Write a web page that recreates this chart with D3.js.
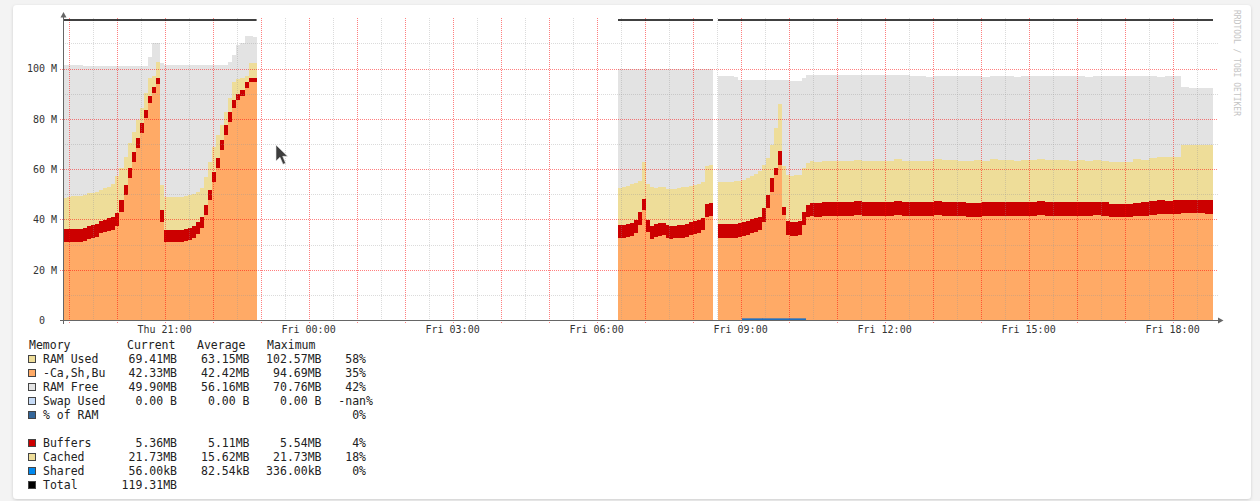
<!DOCTYPE html>
<html>
<head>
<meta charset="utf-8">
<script src="https://cdn.jsdelivr.net/npm/d3@7"></script>
<style>
html,body{margin:0;padding:0;background:#f3f3f3;overflow:hidden;}
svg{display:block;font-family:"DejaVu Sans Mono",monospace;}
</style>
</head>
<body>
<svg id="chart" width="1260" height="501"></svg>
<script>
// ---------------- DATA (MB) ----------------
// segment 1: Thu 18:53 - 22:55
const seg1Apps = [31.0,31.0,31.0,31.0,31.0,31.4,32.2,32.6,33.0,34.6,35.0,35.4,35.8,37.4,43.0,49.7,56.5,62.9,68.4,74.4,80.4,86.3,90.3,93.9,39.0,31.0,31.0,31.0,31.0,31.0,31.4,31.8,32.6,34.2,36.6,41.8,47.7,54.9,60.5,67.6,73.6,78.8,84.3,87.5,89.1,92.3,94.7,94.7];
const seg1Buffers = [5.2,5.2,5.2,5.2,5.2,5.2,5.2,5.2,5.2,4.8,4.8,5.2,5.2,5.2,4.8,4.0,4.0,4.0,4.0,4.0,3.2,2.8,2.4,2.4,4.8,4.8,4.8,4.8,4.8,4.8,4.8,4.8,4.8,4.8,4.4,4.0,4.0,4.0,4.0,4.0,4.0,4.0,3.2,2.4,2.4,2.4,1.6,1.6];
const seg1Cached = [12.3,12.7,13.1,13.1,13.1,13.1,13.1,12.7,12.7,12.3,12.7,12.3,13.1,14.7,12.7,11.1,9.9,8.0,7.2,6.0,6.8,7.2,4.4,6.4,9.9,13.1,13.1,13.1,13.1,13.1,13.1,13.1,12.7,11.9,11.5,11.1,11.1,9.9,9.1,6.0,5.2,5.6,7.2,6.0,4.8,2.4,6.0,6.0];
const seg1Free = [52.9,52.5,52.1,52.1,52.1,51.3,50.5,50.5,50.1,49.3,48.5,48.1,46.9,43.8,40.6,36.2,30.6,26.3,21.5,16.7,10.7,8.4,13.1,7.6,48.5,52.5,52.5,52.5,52.5,52.5,52.1,51.7,51.3,50.5,48.9,44.6,38.6,32.6,27.8,23.9,18.7,14.3,10.7,13.5,13.9,15.9,10.7,10.3];

// segment 2: Fri 06:27 - 08:25
const seg2Apps = [32.6,32.6,33.0,33.4,34.6,37.8,43.8,35.0,32.2,33.0,33.4,33.8,32.6,32.2,32.6,32.6,32.6,33.0,33.8,34.2,34.6,35.8,41.0,41.4];
const seg2Buffers = [5.2,5.2,5.2,5.2,5.2,5.2,4.4,4.8,5.2,5.2,5.2,4.8,5.2,5.2,4.8,5.2,5.2,5.2,5.2,5.2,5.2,4.8,5.2,5.2];
const seg2Cached = [14.7,15.1,15.1,15.5,14.7,12.3,14.7,14.3,15.5,14.3,14.3,14.3,14.3,14.7,14.7,14.7,15.1,14.7,14.3,14.3,14.3,14.3,15.1,15.1];
const seg2Free = [47.3,46.9,46.5,45.7,45.3,44.6,37.0,45.7,46.9,47.3,46.9,46.9,47.7,47.7,47.7,47.3,46.9,46.9,46.5,46.1,45.7,44.9,38.6,38.2];

// segment 3a: Fri 08:32 - 10:32 (5 min)
const seg3aApps = [32.6,32.6,32.6,32.6,32.6,33.0,33.4,33.8,34.6,35.0,35.8,39.0,44.6,50.9,57.7,61.7,41.8,33.8,33.4,33.4,33.8,37.8,41.0,41.4];
const seg3aBuffers = [5.5,5.5,5.5,5.5,5.5,5.5,5.5,5.5,5.5,5.5,5.2,5.5,5.2,5.5,2.8,5.5,3.2,5.5,5.5,5.5,5.5,5.2,4.8,5.2];
const seg3aCached = [16.7,16.7,16.7,16.7,17.1,16.7,16.7,17.1,17.1,17.5,18.3,17.1,14.7,13.1,15.9,18.7,16.3,18.3,18.5,18.7,18.3,17.5,16.7,16.7];
const seg3aFree = [42.2,42.2,42.2,42.2,41.4,40.2,39.8,39.0,38.2,37.4,36.2,33.8,31.0,25.9,19.1,9.5,34.2,37.8,37.8,37.4,37.4,35.8,35.0,34.2];
const seg3aShared = [0.05,0.05,0.05,0.05,0.05,0.05,0.33,0.33,0.33,0.33,0.33,0.33,0.33,0.33,0.33,0.33,0.33,0.33,0.33,0.33,0.33,0.33,0.05,0.05];

// segment 3b: Fri 10:32 - 18:50 (10 min)
const seg3bApps = [41.0,41.4,41.4,41.4,41.4,41.8,41.4,41.4,41.4,41.4,41.8,41.4,41.4,41.4,41.4,41.8,41.4,41.4,41.4,41.0,41.0,41.4,41.4,41.4,41.4,41.4,41.4,41.4,41.8,41.4,41.4,41.4,41.4,41.4,41.4,41.8,41.4,41.0,41.0,41.0,41.4,41.4,41.8,42.2,42.2,42.2,42.6,42.6,42.6,42.33];
const seg3bBuffers = [5.5,5.5,5.5,5.5,5.5,5.5,5.5,5.5,5.5,5.5,5.5,5.5,5.5,5.5,5.5,5.5,5.5,5.5,5.5,5.5,5.5,5.5,5.5,5.5,5.5,5.5,5.5,5.5,5.5,5.5,5.5,5.5,5.5,5.5,5.5,5.2,5.5,5.2,5.2,5.2,5.2,5.5,5.5,5.5,5.2,5.5,5.2,5.2,5.2,5.36];
const seg3bCached = [16.3,16.3,16.3,16.3,16.3,16.3,16.3,16.3,16.3,16.3,16.7,16.3,16.3,16.3,16.3,16.7,16.7,16.7,16.3,16.7,17.1,16.5,17.1,16.7,16.7,16.5,16.7,16.7,16.7,16.7,16.7,16.7,16.3,16.7,16.5,16.7,16.3,16.7,16.7,16.7,17.5,16.7,17.1,17.1,17.5,17.1,21.9,21.9,21.9,21.73];
const seg3bFree = [34.6,34.2,34.2,34.2,34.2,33.8,34.2,34.2,34.2,34.2,33.4,34.2,33.8,33.8,33.4,33.0,33.4,33.4,33.8,33.8,33.4,33.4,33.0,33.4,33.4,33.4,33.4,33.4,33.0,33.4,33.4,33.4,33.8,33.4,33.4,33.4,33.8,34.2,34.2,34.2,33.0,33.4,32.6,31.8,32.2,32.2,23.1,22.7,22.7,22.9];

const segStart = ["2024-01-04 18:53:00","2024-01-05 06:26:45","2024-01-05 08:31:45","2024-01-05 10:31:45"];
const segEnd   = ["2024-01-04 22:55:00","2024-01-05 08:25:30","2024-01-05 10:31:45","2024-01-05 18:50:30"];
const runGroups = [[0],[1],[2,3]];
const totalRam = 119.31;

const xTickTimes  = ["2024-01-04 21:00:00","2024-01-05 00:00:00","2024-01-05 03:00:00","2024-01-05 06:00:00","2024-01-05 09:00:00","2024-01-05 12:00:00","2024-01-05 15:00:00","2024-01-05 18:00:00"];
const xTickLabels = ["Thu 21:00","Fri 00:00","Fri 03:00","Fri 06:00","Fri 09:00","Fri 12:00","Fri 15:00","Fri 18:00"];
const yTickValues = [0,20,40,60,80,100];
const yTickLabels = ["0","20 M","40 M","60 M","80 M","100 M"];

const legendLabels  = ["RAM Used","-Ca,Sh,Bu","RAM Free","Swap Used","% of RAM",null,"Buffers","Cached","Shared","Total"];
const legendColors  = ["#EEDD99","#FFAA66","#E3E3E3","#C6DBF7","#336699",null,"#CC0000","#EEDD99","#0088EE","#000000"];
const legendCurrent = ["69.41MB","42.33MB","49.90MB","0.00 B","",null,"5.36MB","21.73MB","56.00kB","119.31MB"];
const legendAverage = ["63.15MB","42.42MB","56.16MB","0.00 B","",null,"5.11MB","15.62MB","82.54kB",""];
const legendMaximum = ["102.57MB","94.69MB","70.76MB","0.00 B","",null,"5.54MB","21.73MB","336.00kB",""];
const legendPercent = [" 58%"," 35%"," 42%","-nan%","  0%",null,"  4%"," 18%","  0%",""];

// ---------------- DRAW ----------------
const segments = [
  {apps:seg1Apps, buffers:seg1Buffers, cached:seg1Cached, free:seg1Free, shared:null},
  {apps:seg2Apps, buffers:seg2Buffers, cached:seg2Cached, free:seg2Free, shared:null},
  {apps:seg3aApps, buffers:seg3aBuffers, cached:seg3aCached, free:seg3aFree, shared:seg3aShared},
  {apps:seg3bApps, buffers:seg3bBuffers, cached:seg3bCached, free:seg3bFree, shared:null}
];
const parse = d3.timeParse("%Y-%m-%d %H:%M:%S");
const svg = d3.select("#chart");

const defs = svg.append("defs");
const flt = defs.append("filter").attr("id","shadow").attr("x","-2%").attr("y","-3%").attr("width","104%").attr("height","106%");
flt.append("feDropShadow").attr("dx",0).attr("dy",1).attr("stdDeviation",1.6).attr("flood-color","#000").attr("flood-opacity",0.16);
svg.append("rect").attr("x",13).attr("y",5).attr("width",1238).attr("height",494).attr("rx",4)
  .attr("fill","#fff").attr("filter","url(#shadow)");

const X0 = 63, X1 = 1218, Y0 = 320, YT = 18.3;
const x = d3.scaleTime().domain([parse("2024-01-04 18:53:00"), parse("2024-01-05 18:56:45")]).range([X0, X1]);
const y = d3.scaleLinear().domain([0,120]).range([Y0, YT]);

const keys = ["apps","buffers","cached","free"];
const colors = {apps:"#FFAA66", buffers:"#CC0000", cached:"#EEDD99", free:"#E3E3E3"};

function runPoints(ids){
  const pts = [];
  ids.forEach(k=>{
    const s = segments[k], t0 = parse(segStart[k]), t1 = parse(segEnd[k]), n = s.apps.length;
    for(let i=0;i<n;i++){
      pts.push({t:new Date(+t0 + (t1-t0)*i/n), apps:s.apps[i], buffers:s.buffers[i], cached:s.cached[i], free:s.free[i],
        shared: s.shared ? s.shared[i] : null});
    }
  });
  const lastId = ids[ids.length-1];
  pts.push(Object.assign({}, pts[pts.length-1], {t: parse(segEnd[lastId])}));
  return pts;
}

const gArea = svg.append("g");
runGroups.forEach(ids=>{
  const pts = runPoints(ids);
  const series = d3.stack().keys(keys)(pts);
  const area = d3.area().curve(d3.curveStepAfter)
    .x(d=>x(d.data.t)).y0(d=>y(d[0])).y1(d=>y(d[1]));
  series.forEach(s=>{
    gArea.append("path").attr("d", area(s)).attr("fill", colors[s.key]).attr("shape-rendering","crispEdges");
  });
});

// grid
const gGrid = svg.append("g").attr("shape-rendering","crispEdges");
const tStart = x.domain()[0], tEnd = x.domain()[1];
const hours = d3.timeHour.range(d3.timeHour.ceil(tStart), tEnd);
const halves = hours.map(h=>d3.timeMinute.offset(h,30)).filter(t=>t<tEnd);
const px = v => Math.round(v)+0.5;
const minorCol = "rgba(150,150,150,0.34)", majorCol = "rgba(255,0,0,0.5)";
halves.forEach(t=>{
  gGrid.append("line").attr("x1",px(x(t))).attr("x2",px(x(t))).attr("y1",18).attr("y2",Y0)
    .attr("stroke",minorCol).attr("stroke-dasharray","1,1");
});
hours.forEach(t=>{
  gGrid.append("line").attr("x1",px(x(t))).attr("x2",px(x(t))).attr("y1",18).attr("y2",Y0+3)
    .attr("stroke",majorCol).attr("stroke-dasharray","1,1");
});
[10,30,50,70,90,110].forEach(v=>{
  gGrid.append("line").attr("x1",X0).attr("x2",X1).attr("y1",px(y(v))).attr("y2",px(y(v)))
    .attr("stroke",minorCol).attr("stroke-dasharray","1,1");
});
[20,40,60,80,100].forEach(v=>{
  gGrid.append("line").attr("x1",X0-3).attr("x2",X1).attr("y1",px(y(v))).attr("y2",px(y(v)))
    .attr("stroke",majorCol).attr("stroke-dasharray","1,1");
});

// total line per run
runGroups.forEach(ids=>{
  const t0 = parse(segStart[ids[0]]), t1 = parse(segEnd[ids[ids.length-1]]);
  svg.append("line").attr("x1",x(t0)).attr("x2",x(t1)).attr("y1",y(totalRam)).attr("y2",y(totalRam))
    .attr("stroke","#000").attr("stroke-width",1.4);
});

// shared line (only the part that rises visibly above the axis)
runGroups.forEach(ids=>{
  const pts = runPoints(ids);
  for(let i=0;i<pts.length-1;i++){
    const d = pts[i];
    if(d.shared==null || d.shared<0.1) continue;
    svg.append("line").attr("x1",x(d.t)).attr("x2",x(pts[i+1].t)).attr("y1",y(d.shared)).attr("y2",y(d.shared))
      .attr("stroke","#1a6fc4").attr("stroke-width",1.6);
  }
});

// axes
const axisColor = "#666";
svg.append("line").attr("x1",X0+0.5).attr("x2",X0+0.5).attr("y1",Y0+4).attr("y2",14).attr("stroke",axisColor);
svg.append("path").attr("d",`M${X0-2.5},17.5 L${X0+3.5},17.5 L${X0+0.5},12 Z`).attr("fill",axisColor);
svg.append("line").attr("x1",X0-3).attr("x2",X1+2).attr("y1",Y0+0.5).attr("y2",Y0+0.5).attr("stroke",axisColor);
svg.append("path").attr("d",`M${X1},317.5 L${X1},323.5 L${X1+5.5},320.5 Z`).attr("fill",axisColor);

// y labels
yTickValues.forEach((v,i)=>{
  const lab = yTickLabels[i];
  svg.append("text").attr("x", v===0 ? 45 : 57).attr("y", y(v)+3.8).attr("text-anchor","end")
    .attr("font-size","10px").attr("fill","#333").text(lab);
});
// x labels
xTickTimes.forEach((t,i)=>{
  svg.append("text").attr("x", x(parse(t))).attr("y", 332.5).attr("text-anchor","middle")
    .attr("font-size","10px").attr("fill","#333").text(xTickLabels[i]);
});

// watermark
svg.append("text").attr("transform","translate(1234,10) rotate(90)").attr("font-size","8px")
  .attr("fill","#c4c4c4").text("RRDTOOL / TOBI OETIKER");

// legend
const lg = svg.append("g").attr("font-size","11.5px").attr("fill","#222");
lg.append("text").attr("x",29).attr("y",349).text("Memory");
lg.append("text").attr("x",127).attr("y",349).text("Current");
lg.append("text").attr("x",197).attr("y",349).text("Average");
lg.append("text").attr("x",267).attr("y",349).text("Maximum");
let rowY = 363;
legendLabels.forEach((lab,i)=>{
  if(lab===null){ rowY += 14; return; }
  lg.append("rect").attr("x",28.5).attr("y",rowY-7.5).attr("width",7).attr("height",7)
    .attr("fill",legendColors[i]).attr("stroke","#444").attr("stroke-width",1);
  lg.append("text").attr("x",43).attr("y",rowY).text(lab);
  lg.append("text").attr("x",177).attr("y",rowY).attr("text-anchor","end").text(legendCurrent[i]);
  lg.append("text").attr("x",249.5).attr("y",rowY).attr("text-anchor","end").text(legendAverage[i]);
  lg.append("text").attr("x",321.5).attr("y",rowY).attr("text-anchor","end").text(legendMaximum[i]);
  lg.append("text").attr("x",338.3).attr("y",rowY).style("white-space","pre").text(legendPercent[i]);
  rowY += 14;
});

// mouse pointer seen in the screenshot
svg.append("path").attr("d","M276,145 L276,161 L280,157.3 L283,164.3 L285.6,163.2 L282.7,156.3 L287.6,156.3 Z")
  .attr("fill","#3d3d3d").attr("stroke","#e8e8e8").attr("stroke-width",0.6);
</script>
</body>
</html>
